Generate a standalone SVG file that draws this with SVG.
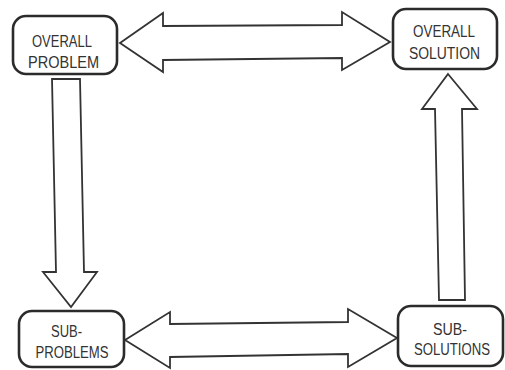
<svg xmlns="http://www.w3.org/2000/svg" width="505" height="370" viewBox="0 0 505 370">
<style>
.box{fill:#fff;stroke:#2b2b2b;stroke-width:2.6}
.arr{fill:#fff;stroke:#333;stroke-width:1.8;stroke-linejoin:miter}
text{font-family:"Liberation Sans",Arial,sans-serif;font-size:16px;fill:#333;text-anchor:middle}
</style>
<rect width="505" height="370" fill="#fff"/>
<g id="connectors">
<path class="arr" d="M120,43 L163,13 L163,26 L342,25 L342,12 L390,42 L342,70 L342,58 L163,60 L163,72 Z"/>
<path class="arr" d="M125,340 L170,312 L170,324 L348,322 L348,309 L397,338 L348,367 L348,354 L170,357 L170,368 Z"/>
<path class="arr" d="M52,79 L80,79 L84,272 L97,272 L71,307 L43,272 L56,272 Z"/>
<path class="arr" d="M448,74 L477,109 L462,109 L465,300 L439,300 L435,109 L422,109 Z"/>
</g>
<g id="overall-problem">
<rect class="box" x="13" y="16" width="104" height="58" rx="13"/>
<text x="62" y="47" textLength="60" lengthAdjust="spacingAndGlyphs">OVERALL</text>
<text x="63.5" y="68" textLength="71" lengthAdjust="spacingAndGlyphs">PROBLEM</text>
</g>
<g id="overall-solution">
<rect class="box" x="393" y="9" width="104" height="60" rx="13"/>
<text x="444" y="37" textLength="62" lengthAdjust="spacingAndGlyphs">OVERALL</text>
<text x="444.5" y="59" textLength="71" lengthAdjust="spacingAndGlyphs">SOLUTION</text>
</g>
<g id="sub-problems">
<rect class="box" x="19" y="311" width="105" height="56" rx="13"/>
<text x="66.5" y="337" textLength="31" lengthAdjust="spacingAndGlyphs">SUB-</text>
<text x="72" y="358" textLength="73" lengthAdjust="spacingAndGlyphs">PROBLEMS</text>
</g>
<g id="sub-solutions">
<rect class="box" x="398" y="306" width="105" height="60" rx="13"/>
<text x="450" y="335" textLength="34" lengthAdjust="spacingAndGlyphs">SUB-</text>
<text x="452" y="355" textLength="76" lengthAdjust="spacingAndGlyphs">SOLUTIONS</text>
</g>
</svg>
